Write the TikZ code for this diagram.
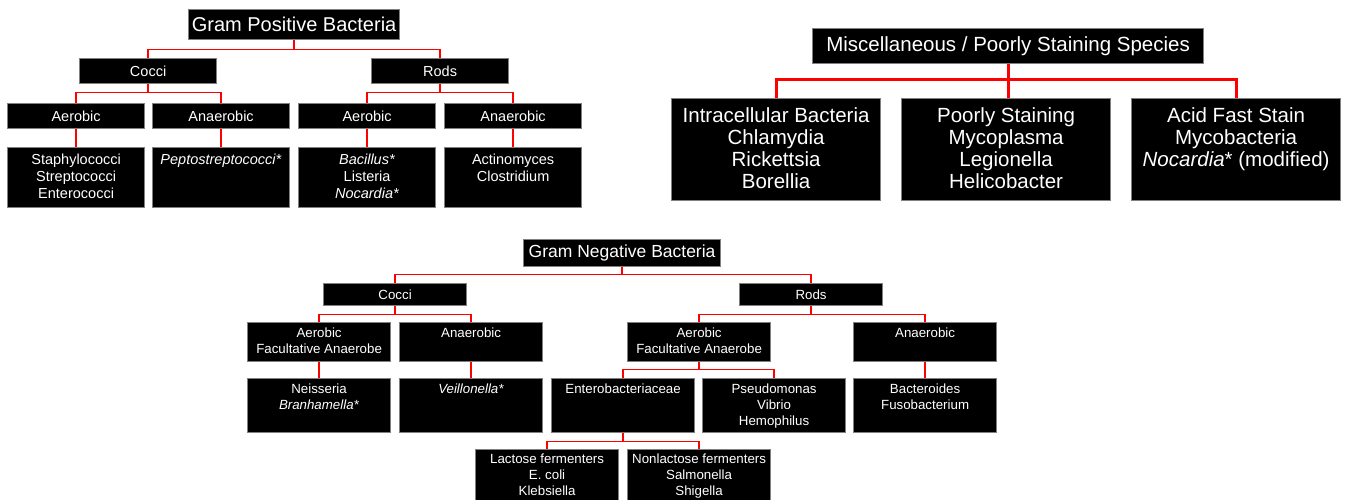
\documentclass[tikz,border=0pt]{standalone}
\usepackage{fontspec}
\setmainfont{Liberation Sans}
\definecolor{bordergray}{RGB}{128,128,128}
\definecolor{linkred}{RGB}{255,0,0}
\tikzset{
  bx/.style={draw=bordergray, fill=black, line width=1.2pt, inner sep=0pt, anchor=north west, text=white},
  tx/.style={text=white, align=center, inner sep=0pt, anchor=north},
  conn/.style={draw=linkred, line width=1.5pt},
  connbig/.style={draw=linkred, line width=3pt},
  fTitle/.style={font=\fontsize{20}{24}\selectfont},
  fPos/.style={font=\fontsize{14.5}{17}\selectfont},
  fMisc/.style={font=\fontsize{20.5}{22}\selectfont},
  fNegT/.style={font=\fontsize{17.5}{21}\selectfont},
  fNeg/.style={font=\fontsize{13.3}{16}\selectfont},
}
\begin{document}
\begin{tikzpicture}[x=1pt,y=-1pt]
\useasboundingbox (0,0) rectangle (1350,500);
% ---------------- Gram positive ----------------
\node[bx, fTitle, minimum width=211pt, minimum height=30pt] (gp) at (188,9) {Gram Positive Bacteria};
\node[bx, fPos, minimum width=137pt, minimum height=25pt] (gpc) at (79,58) {Cocci};
\node[bx, fPos, minimum width=137pt, minimum height=25pt] (gpr) at (371,58) {Rods};
\node[bx, fPos, minimum width=137pt, minimum height=25pt] (gpca) at (7,103) {Aerobic};
\node[bx, fPos, minimum width=137pt, minimum height=25pt] (gpcn) at (152,103) {Anaerobic};
\node[bx, fPos, minimum width=137pt, minimum height=25pt] (gpra) at (298,103) {Aerobic};
\node[bx, fPos, minimum width=137pt, minimum height=25pt] (gprn) at (444,103) {Anaerobic};
\node[bx, minimum width=137pt, minimum height=60pt] (gpcal) at (7,147) {};
\node[bx, minimum width=137pt, minimum height=60pt] (gpcnl) at (152,147) {};
\node[bx, minimum width=137pt, minimum height=60pt] (gpral) at (298,147) {};
\node[bx, minimum width=137pt, minimum height=60pt] (gprnl) at (444,147) {};
\node[tx, fPos] (gpcalt) at ([yshift=-7pt]gpcal.north) {Staphylococci\\Streptococci\\Enterococci};
\node[tx, fPos] (gpcnlt) at ([yshift=-7pt]gpcnl.north) {\textit{Peptostreptococci*}};
\node[tx, fPos] (gpralt) at ([yshift=-7pt]gpral.north) {\textit{Bacillus*}\\Listeria\\\textit{Nocardia*}};
\node[tx, fPos] (gprnlt) at ([yshift=-7pt]gprnl.north) {Actinomyces\\Clostridium};
\coordinate (gpb1) at (0,49.5);
\coordinate (gpb2) at (0,92.5);
\draw[conn] (gp.south) |- (gpc.north |- gpb1) -- (gpc.north);
\draw[conn] (gp.south) |- (gpr.north |- gpb1) -- (gpr.north);
\draw[conn] (gpc.south) |- (gpca.north |- gpb2) -- (gpca.north);
\draw[conn] (gpc.south) |- (gpcn.north |- gpb2) -- (gpcn.north);
\draw[conn] (gpr.south) |- (gpra.north |- gpb2) -- (gpra.north);
\draw[conn] (gpr.south) |- (gprn.north |- gpb2) -- (gprn.north);
\draw[conn] (gpca.south) -- (gpcal.north);
\draw[conn] (gpcn.south) -- (gpcnl.north);
\draw[conn] (gpra.south) -- (gpral.north);
\draw[conn] (gprn.south) -- (gprnl.north);
% ---------------- Miscellaneous ----------------
\node[bx, fMisc, minimum width=391pt, minimum height=35pt] (mt) at (812,28) {Miscellaneous / Poorly Staining Species};
\node[bx, minimum width=209pt, minimum height=102pt] (m1) at (671,98) {};
\node[bx, minimum width=209pt, minimum height=102pt] (m2) at (901,98) {};
\node[bx, minimum width=209pt, minimum height=102pt] (m3) at (1131,98) {};
\node[tx, fMisc] (m1t) at ([yshift=-9.5pt]m1.north) {Intracellular Bacteria\\Chlamydia\\Rickettsia\\Borellia};
\node[tx, fMisc] (m2t) at ([yshift=-9.5pt]m2.north) {Poorly Staining\\Mycoplasma\\Legionella\\Helicobacter};
\node[tx, fMisc] (m3t) at ([yshift=-9.5pt]m3.north) {Acid Fast Stain\\Mycobacteria\\\textit{Nocardia}* (modified)};
\coordinate (mb) at (0,80);
\draw[connbig] (mt.south) |- (m1.north |- mb) -- (m1.north);
\draw[connbig] (mt.south) -- (mt.south |- m2.north);
\draw[connbig] (mt.south) |- (m3.north |- mb) -- (m3.north);
% ---------------- Gram negative ----------------
\node[bx, fNegT, minimum width=197pt, minimum height=27pt] (gn) at (523,239) {Gram Negative Bacteria};
\node[bx, fNeg, minimum width=143pt, minimum height=22pt] (gnc) at (323,283) {Cocci};
\node[bx, fNeg, minimum width=143pt, minimum height=22pt] (gnr) at (739,283) {Rods};
\node[bx, minimum width=143pt, minimum height=39pt] (gnca) at (247,322) {};
\node[bx, minimum width=143pt, minimum height=39pt] (gncn) at (399,322) {};
\node[bx, minimum width=143pt, minimum height=39pt] (gnra) at (627,322) {};
\node[bx, minimum width=143pt, minimum height=39pt] (gnrn) at (853,322) {};
\node[tx, fNeg] (gncat) at ([yshift=-6pt]gnca.north) {Aerobic\\Facultative Anaerobe};
\node[tx, fNeg] (gncnt) at ([yshift=-6pt]gncn.north) {Anaerobic};
\node[tx, fNeg] (gnrat) at ([yshift=-6pt]gnra.north) {Aerobic\\Facultative Anaerobe};
\node[tx, fNeg] (gnrnt) at ([yshift=-6pt]gnrn.north) {Anaerobic};
\node[bx, minimum width=143pt, minimum height=54pt] (gncal) at (247,378) {};
\node[bx, minimum width=143pt, minimum height=54pt] (gncnl) at (399,378) {};
\node[bx, minimum width=143pt, minimum height=54pt] (ent) at (551,378) {};
\node[bx, minimum width=143pt, minimum height=54pt] (pse) at (702,378) {};
\node[bx, minimum width=143pt, minimum height=54pt] (bac) at (853,378) {};
\node[tx, fNeg] (gncalt) at ([yshift=-6pt]gncal.north) {Neisseria\\\textit{Branhamella*}};
\node[tx, fNeg] (gncnlt) at ([yshift=-6pt]gncnl.north) {\textit{Veillonella*}};
\node[tx, fNeg] (entt) at ([yshift=-6pt]ent.north) {Enterobacteriaceae};
\node[tx, fNeg] (pset) at ([yshift=-6pt]pse.north) {Pseudomonas\\Vibrio\\Hemophilus};
\node[tx, fNeg] (bact) at ([yshift=-6pt]bac.north) {Bacteroides\\Fusobacterium};
\node[bx, minimum width=143pt, minimum height=56pt] (lac) at (475,449) {};
\node[bx, minimum width=143pt, minimum height=56pt] (non) at (627,449) {};
\node[tx, fNeg] (lact) at ([yshift=-5pt]lac.north) {Lactose fermenters\\E. coli\\Klebsiella};
\node[tx, fNeg] (nont) at ([yshift=-5pt]non.north) {Nonlactose fermenters\\Salmonella\\Shigella};
\coordinate (gnb1) at (0,274.5);
\coordinate (gnb2) at (0,314.5);
\coordinate (gnb3) at (0,369.5);
\coordinate (gnb4) at (0,441.5);
\draw[conn] (gn.south) |- (gnc.north |- gnb1) -- (gnc.north);
\draw[conn] (gn.south) |- (gnr.north |- gnb1) -- (gnr.north);
\draw[conn] (gnc.south) |- (gnca.north |- gnb2) -- (gnca.north);
\draw[conn] (gnc.south) |- (gncn.north |- gnb2) -- (gncn.north);
\draw[conn] (gnr.south) |- (gnra.north |- gnb2) -- (gnra.north);
\draw[conn] (gnr.south) |- (gnrn.north |- gnb2) -- (gnrn.north);
\draw[conn] (gnca.south) -- (gncal.north);
\draw[conn] (gncn.south) -- (gncnl.north);
\draw[conn] (gnrn.south) -- (bac.north);
\draw[conn] (gnra.south) |- (ent.north |- gnb3) -- (ent.north);
\draw[conn] (gnra.south) |- (pse.north |- gnb3) -- (pse.north);
\draw[conn] (ent.south) |- (lac.north |- gnb4) -- (lac.north);
\draw[conn] (ent.south) |- (non.north |- gnb4) -- (non.north);
\end{tikzpicture}
\end{document}
